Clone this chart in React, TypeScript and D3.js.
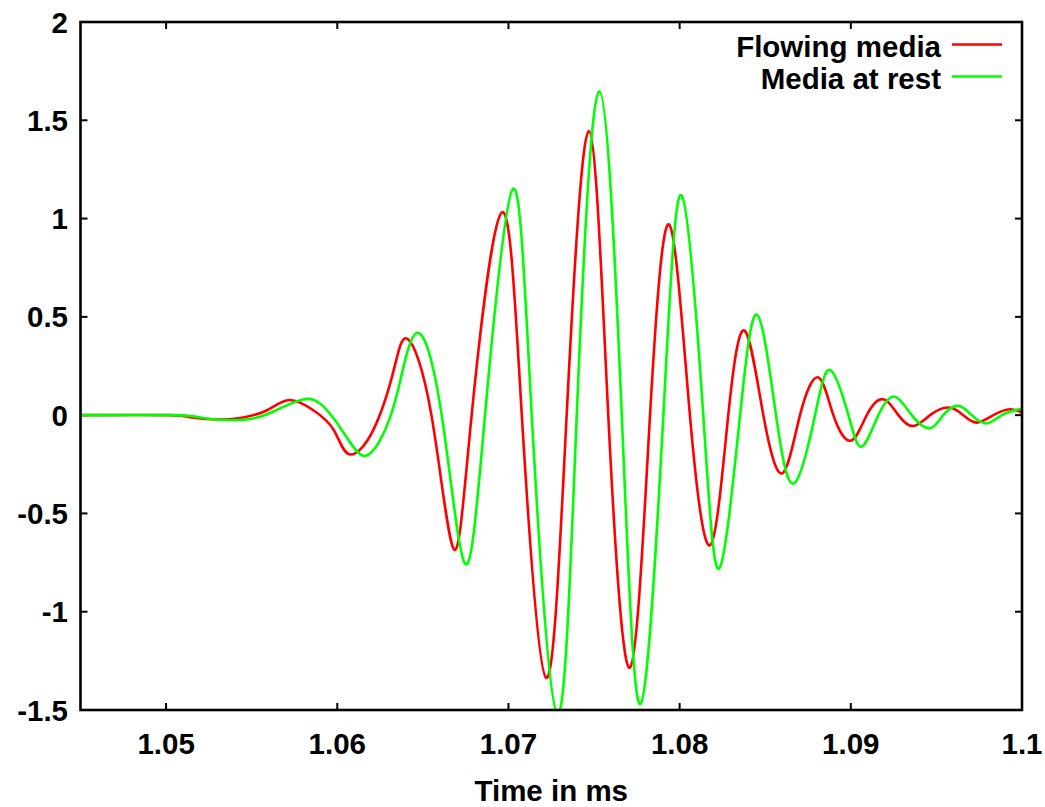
import React from 'react'
import * as d3 from 'd3'

// Time in ms (x) and amplitude (y) at extrema and zero crossings
const FLOWING_T = [
  1.045, 1.0502, 1.0515, 1.0532, 1.0545, 1.0559, 1.0572, 1.0586, 1.0598, 1.0607,
  1.0621, 1.0633, 1.0641, 1.0655, 1.0668, 1.06785, 1.0696, 1.07078, 1.0722, 1.0734,
  1.0747, 1.07583, 1.0771, 1.07827, 1.0794, 1.0806, 1.0818, 1.08284, 1.0838, 1.08489,
  1.086, 1.08703, 1.0881, 1.08898, 1.09, 1.09093, 1.0919, 1.09278, 1.09365, 1.09463,
  1.0957, 1.09657, 1.09735, 1.09833, 1.0993, 1.1,
]
const FLOWING_V = [
  0, 0, -0.012, -0.022, -0.012, 0.025, 0.077, 0.025, -0.076, -0.199,
  -0.076, 0.23, 0.388, 0, -0.681, 0, 1.03, 0, -1.336, 0,
  1.445, 0, -1.284, 0, 0.968, 0, -0.66, 0, 0.43, 0,
  -0.296, 0, 0.192, 0, -0.13, 0, 0.081, 0, -0.055, 0,
  0.039, 0, -0.038, 0, 0.03, 0.012,
]

const REST_T = [
  1.045, 1.0505, 1.052, 1.0535, 1.055, 1.0563, 1.058, 1.0592, 1.0604, 1.0615,
  1.0625, 1.0635, 1.06464, 1.0661, 1.06746, 1.06863, 1.07025, 1.07136, 1.07286, 1.07399,
  1.07531, 1.07662, 1.07772, 1.07905, 1.08012, 1.08138, 1.08232, 1.08353, 1.08454, 1.08563,
  1.08668, 1.08791, 1.08879, 1.08986, 1.09064, 1.09161, 1.09258, 1.09356, 1.09463, 1.0954,
  1.09628, 1.09706, 1.09794, 1.09882, 1.1,
]
const REST_V = [
  0, 0, -0.012, -0.025, -0.018, 0.02, 0.08, 0.043, -0.093, -0.206,
  -0.127, 0.11, 0.418, 0, -0.755, 0, 1.149, 0, -1.52, 0,
  1.647, 0, -1.469, 0, 1.117, 0, -0.779, 0, 0.51, 0,
  -0.347, 0, 0.23, 0, -0.16, 0, 0.094, 0, -0.067, 0,
  0.047, 0, -0.042, 0, 0.034,
]

const X_TICKS = [1.05, 1.06, 1.07, 1.08, 1.09, 1.1]
const X_TICK_LABELS = ['1.05', '1.06', '1.07', '1.08', '1.09', '1.1']
const Y_TICKS = [-1.5, -1, -0.5, 0, 0.5, 1, 1.5, 2]
const Y_TICK_LABELS = ['-1.5', '-1', '-0.5', '0', '0.5', '1', '1.5', '2']

const SERIES_NAMES = ['Flowing media', 'Media at rest']
const SERIES_COLORS = ['#ff0000', '#00ff00']
const X_LABEL = 'Time in ms'

const W = 1045
const H = 807
const M = { left: 80.5, right: 1022, top: 22, bottom: 710 }
const FONT = '"Liberation Sans", Arial, Helvetica, sans-serif'
const TICK = 7

export default function App() {
  const x = d3.scaleLinear().domain([1.045, 1.1]).range([M.left, M.right])
  const y = d3.scaleLinear().domain([-1.5, 2]).range([M.bottom, M.top])

  const line = d3.line<[number, number]>()
    .x(d => x(d[0]))
    .y(d => y(d[1]))
    .curve(d3.curveNatural)

  const series = [
    d3.zip(FLOWING_T, FLOWING_V) as [number, number][],
    d3.zip(REST_T, REST_V) as [number, number][],
  ]

  const textStyle = { fontFamily: FONT, fontWeight: 'bold' as const, fontSize: 29.5, fill: '#000' }

  return (
    <svg width={W} height={H} style={{ position: 'absolute', left: 0, top: 0, background: '#fff' }}>
      <defs>
        <clipPath id="plot">
          <rect x={M.left} y={M.top} width={M.right - M.left} height={M.bottom - M.top} />
        </clipPath>
      </defs>

      {/* y ticks, both sides, pointing inward */}
      {Y_TICKS.map((v, i) => (
        <g key={'y' + i}>
          <line x1={M.left} x2={M.left + TICK} y1={y(v)} y2={y(v)} stroke="#000" strokeWidth={2} />
          <line x1={M.right} x2={M.right - TICK} y1={y(v)} y2={y(v)} stroke="#000" strokeWidth={2} />
          <text x={68} y={y(v)} dy="0.36em" textAnchor="end" style={textStyle}>{Y_TICK_LABELS[i]}</text>
        </g>
      ))}

      {/* x ticks, top and bottom */}
      {X_TICKS.map((v, i) => (
        <g key={'x' + i}>
          <line x1={x(v)} x2={x(v)} y1={M.bottom} y2={M.bottom - TICK} stroke="#000" strokeWidth={2} />
          <line x1={x(v)} x2={x(v)} y1={M.top} y2={M.top + TICK} stroke="#000" strokeWidth={2} />
          <text x={x(v)} y={754} textAnchor="middle" style={textStyle}>{X_TICK_LABELS[i]}</text>
        </g>
      ))}

      <g clipPath="url(#plot)">
        {series.map((d, i) => (
          <path key={i} d={line(d) ?? ''} fill="none" stroke={SERIES_COLORS[i]}
            strokeWidth={2.6} strokeLinejoin="round" />
        ))}
      </g>

      <rect x={M.left} y={M.top} width={M.right - M.left} height={M.bottom - M.top}
        fill="none" stroke="#000" strokeWidth={2.6} />

      {/* legend */}
      {SERIES_NAMES.map((name, i) => (
        <g key={name}>
          <text x={941} y={56.5 + i * 32} textAnchor="end" style={textStyle}>{name}</text>
          <line x1={952} x2={1002} y1={44.5 + i * 32} y2={44.5 + i * 32}
            stroke={SERIES_COLORS[i]} strokeWidth={2.6} />
        </g>
      ))}

      <text x={(M.left + M.right) / 2} y={801} textAnchor="middle" style={textStyle}>{X_LABEL}</text>
    </svg>
  )
}
